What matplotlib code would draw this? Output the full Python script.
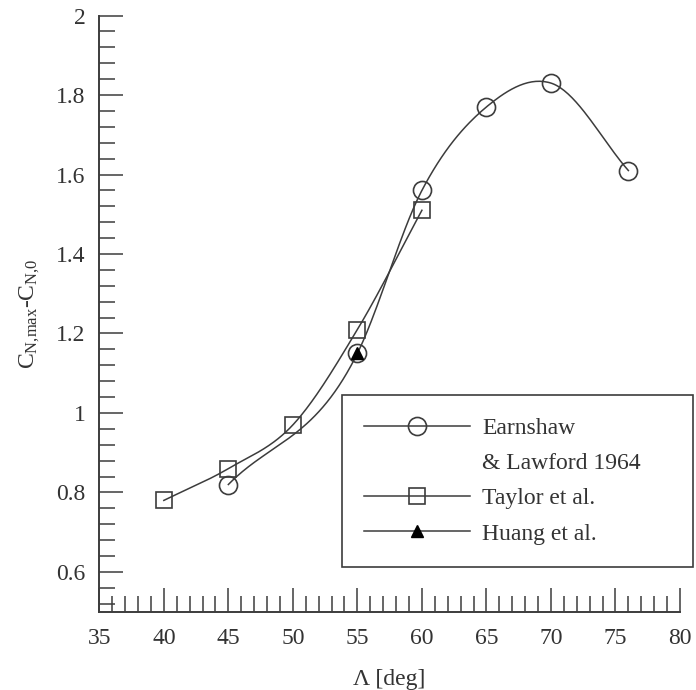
import matplotlib
matplotlib.use("Agg")
import matplotlib.pyplot as plt
from matplotlib.lines import Line2D
import numpy as np

# data
earnshaw_x = [45, 55, 60, 65, 70, 76]
earnshaw_y = [0.82, 1.15, 1.56, 1.77, 1.83, 1.61]
taylor_x = [40, 45, 50, 55, 60]
taylor_y = [0.78, 0.86, 0.97, 1.21, 1.51]
huang_x = [55]
huang_y = [1.15]

x_ticks = [35, 40, 45, 50, 55, 60, 65, 70, 75, 80]
y_ticks = [0.6, 0.8, 1.0, 1.2, 1.4, 1.6, 1.8, 2.0]
y_ticklabels = ["0.6", "0.8", "1", "1.2", "1.4", "1.6", "1.8", "2"]

plt.rcParams["font.family"] = ["Liberation Serif", "DejaVu Serif"]
plt.rcParams["mathtext.fontset"] = "custom"
plt.rcParams["mathtext.rm"] = "Liberation Serif"

INK = "#3c3c3c"
FS = 17


def smooth_curve(x, y, n=200):
    # cubic Hermite pieces with finite-difference slopes, for the drawn line
    x = np.asarray(x, float)
    y = np.asarray(y, float)
    m = np.gradient(y, x)
    xs = np.linspace(x[0], x[-1], n)
    idx = np.clip(np.searchsorted(x, xs) - 1, 0, len(x) - 2)
    h = x[idx + 1] - x[idx]
    t = (xs - x[idx]) / h
    h00 = 2 * t**3 - 3 * t**2 + 1
    h10 = t**3 - 2 * t**2 + t
    h01 = -2 * t**3 + 3 * t**2
    h11 = t**3 - t**2
    ys = h00 * y[idx] + h10 * h * m[idx] + h01 * y[idx + 1] + h11 * h * m[idx + 1]
    return xs, ys


fig = plt.figure(figsize=(6.96, 6.90), dpi=100)
ax = fig.add_axes([0.1427, 0.1135, 0.8343, 0.864])

ex, ey = smooth_curve(earnshaw_x, earnshaw_y)
tx, ty = smooth_curve(taylor_x, taylor_y)
ax.plot(ex, ey, color=INK, lw=1.1, zorder=2)
ax.plot(tx, ty, color=INK, lw=1.1, zorder=2)

ax.plot(earnshaw_x, earnshaw_y, ls="none", marker="o", ms=13, mfc="none",
        mec=INK, mew=1.2, zorder=3)
ax.plot(taylor_x, taylor_y, ls="none", marker="s", ms=11, mfc="none",
        mec=INK, mew=1.2, zorder=3)
ax.plot(huang_x, huang_y, ls="none", marker="^", ms=9, mfc="black",
        mec="black", zorder=4)

ax.set_xlim(35, 80)
ax.set_ylim(0.5, 2.0)
ax.set_xticks(x_ticks)
ax.set_xticks(np.arange(35, 81, 1), minor=True)
ax.set_yticks(y_ticks)
ax.set_yticklabels(y_ticklabels)
ax.set_yticks(np.arange(0.52, 2.0, 0.04), minor=True)

for s in ["top", "right"]:
    ax.spines[s].set_visible(False)
for s in ["left", "bottom"]:
    ax.spines[s].set_color(INK)
    ax.spines[s].set_linewidth(1.4)

ax.tick_params(which="major", direction="in", length=17, width=1.1, color=INK,
               labelsize=FS, labelcolor="#333333", pad=10)
ax.tick_params(axis="x", which="major", pad=12)
ax.tick_params(which="minor", direction="in", length=11.5, width=1.1, color=INK)

ax.set_xlabel("Λ [deg]", fontsize=FS, color="#333333", labelpad=14)
ax.set_ylabel(r"$\mathrm{C_{N{,}max}}$-$\mathrm{C_{N{,}0}}$", fontsize=FS,
              color="#333333", labelpad=10)

handles = [
    Line2D([], [], color=INK, lw=1.1, marker="o", ms=13, mfc="none", mec=INK, mew=1.2),
    Line2D([], [], color="none"),
    Line2D([], [], color=INK, lw=1.1, marker="s", ms=11, mfc="none", mec=INK, mew=1.2),
    Line2D([], [], color=INK, lw=1.1, marker="^", ms=9, mfc="black", mec="black"),
]
labels = ["Earnshaw", "& Lawford 1964", "Taylor et al.", "Huang et al."]
leg = fig.legend(handles, labels, loc="upper left",
                 bbox_to_anchor=(342 / 696, 1 - 565 / 690, 351 / 696, 170 / 690),
                 mode="expand", fontsize=FS, handlelength=4.45, handletextpad=0.55,
                 borderpad=0.95, labelspacing=0.58, fancybox=False, framealpha=1,
                 edgecolor=INK, borderaxespad=0)
leg.get_frame().set_linewidth(1.2)
for t in leg.get_texts():
    t.set_color("#333333")

fig.savefig("out.png", dpi=100)
